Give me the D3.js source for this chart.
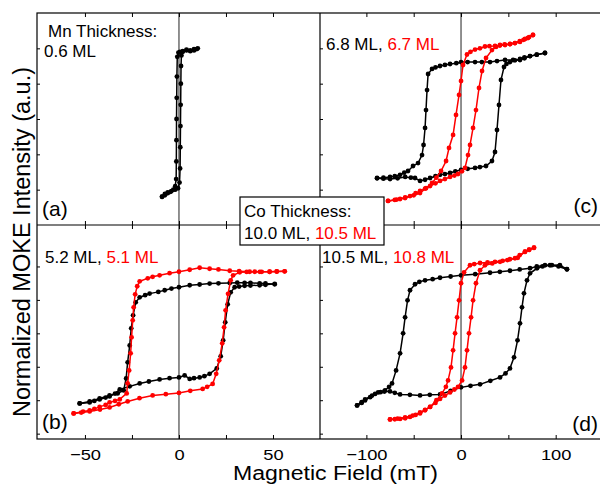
<!DOCTYPE html>
<html><head><meta charset="utf-8">
<script src="https://cdn.jsdelivr.net/npm/d3@7"></script>
<style>
body{margin:0;background:#fff}
svg text{font-family:"Liberation Sans",Arial,sans-serif}
</style>
</head><body>
<svg id="chart" width="600" height="485"></svg>
<script>
// ---------- DATA (H in mT, normalized MOKE intensity) ----------
// Panel (a) Mn 0.6 ML
const aBlackDown = [[9.5,0.99],[8,0.97],[6,0.96],[4,0.97],[2,0.95],[0.5,0.95],[-0.3,0.94],[-0.9,0.88],[-1.1,0.6],[-1.2,0.3],[-1.3,0],[-1.35,-0.3],[-1.4,-0.6],[-1.5,-0.85],[-2,-0.95],[-3,-1.0],[-4.5,-1.03],[-6,-1.05],[-7.5,-1.08],[-9,-1.1]];
const aBlackUp = [[-9,-1.1],[-7.5,-1.06],[-6,-1.04],[-4,-1.02],[-2,-1.0],[-0.5,-0.98],[0.3,-0.9],[0.6,-0.7],[0.7,-0.4],[0.8,-0.1],[0.9,0.2],[1.0,0.5],[1.1,0.75],[1.3,0.9],[2,0.96],[4,0.98],[6,0.97],[8,0.99],[10,1.0]];

// Panel (b) Mn 5.2 ML (black), 5.1 ML (red)
const bBlackDown = [[50.9,0.733],[46,0.745],[42.9,0.748],[38,0.755],[34.9,0.756],[31,0.757],[27,0.753],[21,0.748],[16.3,0.744],[11,0.73],[5.7,0.719],[0,0.689],[-4,0.67],[-7.6,0.644],[-11,0.62],[-15.6,0.594],[-18,0.57],[-20.9,0.539],[-23,0.464],[-24.4,0.269],[-25.4,0.075],[-26.2,-0.18],[-27.3,-0.434],[-28.1,-0.674],[-29.4,-0.853],[-32.6,-0.898],[-36.9,-0.928],[-42.2,-0.973],[-47.5,-1.018],[-52.8,-1.048]];
const bBlackUp = [[-52.8,-1.048],[-47.5,-1.033],[-45,-1.01],[-42.2,-0.988],[-39,-0.96],[-36.9,-0.943],[-34,-0.9],[-31.5,-0.838],[-26.2,-0.793],[-20.9,-0.749],[-16,-0.72],[-10.3,-0.689],[-5,-0.67],[0,-0.659],[3,-0.629],[5.7,-0.681],[8,-0.67],[11,-0.659],[13.5,-0.64],[16.3,-0.606],[20.1,-0.524],[22.2,-0.344],[23.5,-0.105],[24.6,0.165],[25.9,0.434],[27.5,0.614],[29.6,0.689],[32,0.70],[34.9,0.711],[38,0.715],[42.9,0.719],[46,0.725],[50.9,0.741]];
const bRedDown = [[56.2,0.928],[52,0.925],[48.2,0.921],[43,0.92],[37.6,0.921],[32,0.93],[27,0.936],[21,0.955],[16.3,0.966],[11,0.981],[5.7,0.951],[0,0.921],[-5,0.9],[-10.3,0.868],[-14,0.845],[-16.6,0.823],[-20.9,0.778],[-22.2,0.704],[-23.3,0.584],[-24.1,0.389],[-24.6,0.195],[-25.2,-0.06],[-25.7,-0.299],[-26.5,-0.554],[-27.3,-0.748],[-27.8,-0.898],[-31.5,-0.988],[-34,-1.01],[-36.9,-1.033],[-39,-1.07],[-42.2,-1.1],[-45,-1.13],[-47.5,-1.153],[-51,-1.17],[-56,-1.198]];
const bRedUp = [[-56,-1.198],[-52,-1.185],[-47.5,-1.168],[-42,-1.14],[-36.9,-1.108],[-32,-1.06],[-27.3,-1.018],[-21,-0.97],[-14,-0.928],[-7,-0.91],[0,-0.891],[6,-0.86],[12.6,-0.831],[15,-0.8],[17.9,-0.756],[19.8,-0.606],[21.4,-0.404],[23,-0.15],[24,0.09],[24.8,0.344],[26.1,0.591],[27.5,0.793],[28.8,0.868],[32.3,0.913],[36,0.918],[40.3,0.921],[44,0.92],[48.2,0.921],[52,0.925],[56.2,0.928]];

// Panel (c) Mn 6.8 ML (black), 6.7 ML (red)
const cBlackDown = [[88.7,0.934],[80,0.91],[72.9,0.89],[67,0.86],[62.3,0.835],[55,0.835],[46.5,0.835],[38,0.82],[30.6,0.806],[22,0.806],[14.8,0.806],[7,0.806],[0,0.806],[-5,0.79],[-11.6,0.778],[-17,0.765],[-22.2,0.75],[-27,0.73],[-30.6,0.708],[-34.8,0.637],[-35.9,0.41],[-37,0.127],[-38,-0.127],[-39.6,-0.368],[-41.2,-0.51],[-45.4,-0.623],[-50.7,-0.665],[-56,-0.736],[-60,-0.76],[-64.4,-0.79],[-70,-0.81],[-75,-0.82],[-82,-0.83],[-88.7,-0.835]];
const cBlackUp = [[-88.7,-0.84],[-82,-0.845],[-75,-0.85],[-67,-0.84],[-59,-0.82],[-53,-0.83],[-48.6,-0.835],[-43.3,-0.877],[-38,-0.86],[-32.7,-0.835],[-27,-0.81],[-22.2,-0.79],[-17,-0.78],[-11.6,-0.764],[-6,-0.74],[0,-0.72],[7,-0.705],[14.8,-0.693],[20,-0.68],[26.4,-0.665],[32.7,-0.594],[35.9,-0.467],[38,-0.156],[40.1,0.198],[42.2,0.552],[45.4,0.736],[48,0.78],[51.7,0.806],[57,0.83],[62.3,0.849],[67,0.87],[72.9,0.89],[80,0.91],[88.7,0.934]];
const cRedDown = [[76,1.189],[72,1.16],[67.6,1.132],[62,1.10],[57,1.075],[52,1.06],[46.5,1.047],[41,1.04],[35.9,1.033],[30,1.03],[25.3,1.026],[20,1.0],[14.8,0.983],[10,0.95],[6.3,0.913],[2.1,0.764],[0,0.538],[-2.1,0.34],[-5.3,0.057],[-8.4,-0.226],[-12.7,-0.41],[-15.8,-0.594],[-21.1,-0.736],[-26,-0.83],[-30.6,-0.906],[-37,-0.98],[-43.3,-1.047],[-50,-1.08],[-59.1,-1.118],[-68,-1.14],[-77.1,-1.16]];
const cRedUp = [[-77.1,-1.16],[-70,-1.145],[-64.4,-1.132],[-59,-1.11],[-53.9,-1.09],[-48,-1.05],[-43.3,-1.019],[-38,-0.985],[-32.7,-0.948],[-27,-0.91],[-22.2,-0.877],[-17,-0.85],[-11.6,-0.82],[-7,-0.8],[-3.2,-0.778],[1,-0.74],[4.2,-0.693],[7.4,-0.51],[9.5,-0.368],[12.7,-0.127],[15.8,0.127],[19,0.439],[22.2,0.679],[26.4,0.863],[32.7,0.976],[37,1.02],[41.2,1.047],[46,1.055],[51.7,1.061],[57,1.075],[62.3,1.09],[66,1.12],[70.7,1.146],[76,1.189]];

// Panel (d) Mn 10.5 ML (black), 10.8 ML (red)
const dBlackDown = [[111.9,0.958],[104.5,1.018],[96,1.02],[88.7,1.018],[80,1.0],[72.9,0.973],[62,0.955],[51.7,0.936],[41,0.92],[30.6,0.906],[15,0.885],[0,0.868],[-11,0.85],[-22.2,0.831],[-30,0.81],[-38,0.793],[-44,0.77],[-48.6,0.734],[-53.9,0.644],[-56.5,0.494],[-59.1,0.24],[-61.2,0],[-64.4,-0.299],[-68.6,-0.554],[-72.9,-0.749],[-76,-0.8],[-80.3,-0.853],[-85,-0.88],[-90.8,-0.906],[-96,-0.955],[-101.4,-1.003],[-105,-1.04],[-109.8,-1.078]];
const dBlackUp = [[-109.8,-1.078],[-105,-1.03],[-101.4,-0.988],[-94,-0.93],[-87.6,-0.883],[-81,-0.87],[-75,-0.868],[-70,-0.89],[-64.4,-0.913],[-54,-0.92],[-43.3,-0.928],[-33,-0.92],[-22.2,-0.913],[-11,-0.86],[0,-0.808],[10,-0.785],[20.1,-0.763],[31,-0.71],[41.2,-0.659],[47,-0.6],[51.7,-0.524],[56,-0.359],[59.7,-0.105],[62.3,0.15],[64.4,0.389],[66.5,0.599],[69.7,0.793],[72.9,0.898],[80.3,0.973],[86,1.0],[94,1.018],[103,1.0],[111.9,0.958]];
const dRedDown = [[77.1,1.28],[72,1.25],[67.6,1.22],[60,1.13],[51.7,1.108],[44,1.085],[35.9,1.07],[28,1.06],[20.1,1.052],[14,1.035],[9.5,1.018],[3.2,0.913],[0,0.749],[-2.1,0.494],[-4.2,0.24],[-6.3,0],[-8.4,-0.254],[-10.6,-0.509],[-13.7,-0.704],[-16,-0.8],[-20.1,-0.898],[-26,-1.0],[-32.7,-1.1],[-38,-1.15],[-43.3,-1.198],[-51,-1.23],[-59.1,-1.257],[-67,-1.275],[-75,-1.287]];
const dRedUp = [[-75,-1.287],[-70,-1.285],[-64.4,-1.28],[-59,-1.27],[-53.9,-1.25],[-48,-1.22],[-43.3,-1.183],[-38,-1.145],[-32.7,-1.1],[-27,-1.04],[-22.2,-0.981],[-17,-0.93],[-11.6,-0.883],[-7,-0.84],[-3.2,-0.801],[1.1,-0.704],[4.2,-0.509],[6.3,-0.254],[8.4,0],[10.6,0.24],[12.7,0.494],[15.8,0.749],[20.1,0.943],[25.3,1.018],[33,1.045],[41.2,1.07],[49,1.095],[57,1.123],[62,1.17],[67.6,1.22],[72,1.25],[77.1,1.28]];

// Axes
const leftDomain = [-75.5, 75];
const rightDomain = [-149, 150];
const leftTicks = [-50, -25, 0, 25, 50];
const rightTicks = [-100, -50, 0, 50, 100];
const leftTickLabels = [-50, 0, 50];
const rightTickLabels = [-100, 0, 100];
const topYDomain = [-1.5, 1.5];
const bottomYDomain = [-1.58, 1.62];
const topYTicks = [-1, -0.5, 0, 0.5, 1];
const bottomYTicks = [-1.5, -1, -0.5, 0, 0.5, 1];

const xLabel = "Magnetic Field (mT)";
const yLabel = "Normalized MOKE Intensity (a.u.)";

// ---------- LAYOUT ----------
const svg = d3.select("#chart");
const BLACK = "#000", RED = "#ff0000";
const cols = [
  {range:[37,320], domain:leftDomain, ticks:leftTicks, labels:leftTickLabels},
  {range:[320,603], domain:rightDomain, ticks:rightTicks, labels:rightTickLabels}
];
const rows = [
  {range:[225,13], domain:topYDomain, ticks:topYTicks},
  {range:[439,225], domain:bottomYDomain, ticks:bottomYTicks}
];

const panels = [
  {col:0,row:0, series:[{c:BLACK, d:aBlackDown, u:aBlackUp}]},
  {col:0,row:1, series:[{c:BLACK, d:bBlackDown, u:bBlackUp},{c:RED, d:bRedDown, u:bRedUp}]},
  {col:1,row:0, series:[{c:BLACK, d:cBlackDown, u:cBlackUp},{c:RED, d:cRedDown, u:cRedUp}]},
  {col:1,row:1, series:[{c:BLACK, d:dBlackDown, u:dBlackUp},{c:RED, d:dRedDown, u:dRedUp}]}
];

const defs = svg.append("defs");
panels.forEach((p,i)=>{
  const C = cols[p.col], R = rows[p.row];
  const x = d3.scaleLinear().domain(C.domain).range(C.range);
  const y = d3.scaleLinear().domain(R.domain).range(R.range);
  const g = svg.append("g");
  defs.append("clipPath").attr("id","clip"+i).append("rect")
    .attr("x",C.range[0]).attr("y",R.range[1])
    .attr("width",C.range[1]-C.range[0]).attr("height",R.range[0]-R.range[1]);

  // zero line
  g.append("line").attr("x1",x(0)).attr("x2",x(0)).attr("y1",R.range[1]).attr("y2",R.range[0])
    .attr("stroke","#222").attr("stroke-width",1);

  // inward ticks
  const tTop = g.append("g").attr("transform",`translate(0,${R.range[1]})`)
    .call(d3.axisBottom(x).tickValues(C.ticks).tickSize(4).tickFormat(""));
  const tBot = g.append("g").attr("transform",`translate(0,${R.range[0]})`)
    .call(d3.axisTop(x).tickValues(C.ticks).tickSize(4).tickFormat(""));
  const tLeft = g.append("g").attr("transform",`translate(${C.range[0]},0)`)
    .call(d3.axisRight(y).tickValues(R.ticks).tickSize(3).tickFormat(""));
  [tTop,tBot,tLeft].forEach(a=>{a.select(".domain").remove(); a.selectAll("line").attr("stroke","#000");});

  if (p.row===1){
    const lab = g.append("g").attr("transform",`translate(0,${R.range[0]})`)
      .call(d3.axisBottom(x).tickValues(C.labels).tickSize(0).tickPadding(9.5).tickFormat(d3.format("d")));
    lab.select(".domain").remove();
    lab.selectAll("text").attr("font-size","15.5px").attr("fill","#000")
      .attr("font-family","'Liberation Sans',Arial,sans-serif")
      .each(function(){ const L=this.getComputedTextLength(); d3.select(this).attr("textLength",L*1.18).attr("lengthAdjust","spacingAndGlyphs"); });
  }

  const line = d3.line().x(d=>x(d[0])).y(d=>y(d[1]));
  const dg = g.append("g").attr("clip-path",`url(#clip${i})`);
  p.series.forEach(s=>{
    [s.d, s.u].forEach(br=>{
      dg.append("path").attr("d",line(br)).attr("fill","none").attr("stroke",s.c).attr("stroke-width",1.5);
      dg.selectAll(null).data(br).enter().append("circle")
        .attr("cx",d=>x(d[0])).attr("cy",d=>y(d[1])).attr("r",2.4).attr("fill",s.c);
    });
  });
});

// frame
svg.append("rect").attr("x",37).attr("y",13).attr("width",566).attr("height",426)
  .attr("fill","none").attr("stroke","#000").attr("stroke-width",1.2);
svg.append("line").attr("x1",320).attr("x2",320).attr("y1",13).attr("y2",439).attr("stroke","#000").attr("stroke-width",1.2);
svg.append("line").attr("x1",37).attr("x2",603).attr("y1",225).attr("y2",225).attr("stroke","#000").attr("stroke-width",1.2);

// panel annotations
function txt(x,y,parts,size,anchor){
  const t = svg.append("text").attr("x",x).attr("y",y).attr("font-size",size+"px").attr("text-anchor",anchor||"start");
  parts.forEach(pt=>t.append("tspan").attr("fill",pt[1]).text(pt[0]));
  return t;
}
txt(48,37,[["Mn Thickness:",BLACK]],17);
txt(44,57,[["0.6 ML",BLACK]],17);
txt(326,50,[["6.8 ML, ",BLACK],["6.7 ML",RED]],17);
txt(45,263,[["5.2 ML, ",BLACK],["5.1 ML",RED]],17);
txt(322,263,[["10.5 ML, ",BLACK],["10.8 ML",RED]],17);
txt(42,216,[["(a)",BLACK]],21);
txt(42,429,[["(b)",BLACK]],21);
txt(598,213,[["(c)",BLACK]],21,"end");
txt(598,431,[["(d)",BLACK]],21,"end");

// Co thickness box
svg.append("rect").attr("x",240).attr("y",197).attr("width",144).attr("height",48)
  .attr("fill","#fff").attr("stroke","#000").attr("stroke-width",1.2);
txt(244,216.5,[["Co Thickness:",BLACK]],17);
txt(244,238.5,[["10.0 ML, ",BLACK],["10.5 ML",RED]],17);

// axis titles
svg.append("text").attr("x",335.5).attr("y",480).attr("text-anchor","middle")
  .attr("font-size","20px").attr("textLength",205).attr("lengthAdjust","spacingAndGlyphs").text(xLabel);
svg.append("text").attr("transform","translate(29.5,242) rotate(-90)").attr("text-anchor","middle")
  .attr("font-size","23.5px").text(yLabel);
</script>
</body></html>
